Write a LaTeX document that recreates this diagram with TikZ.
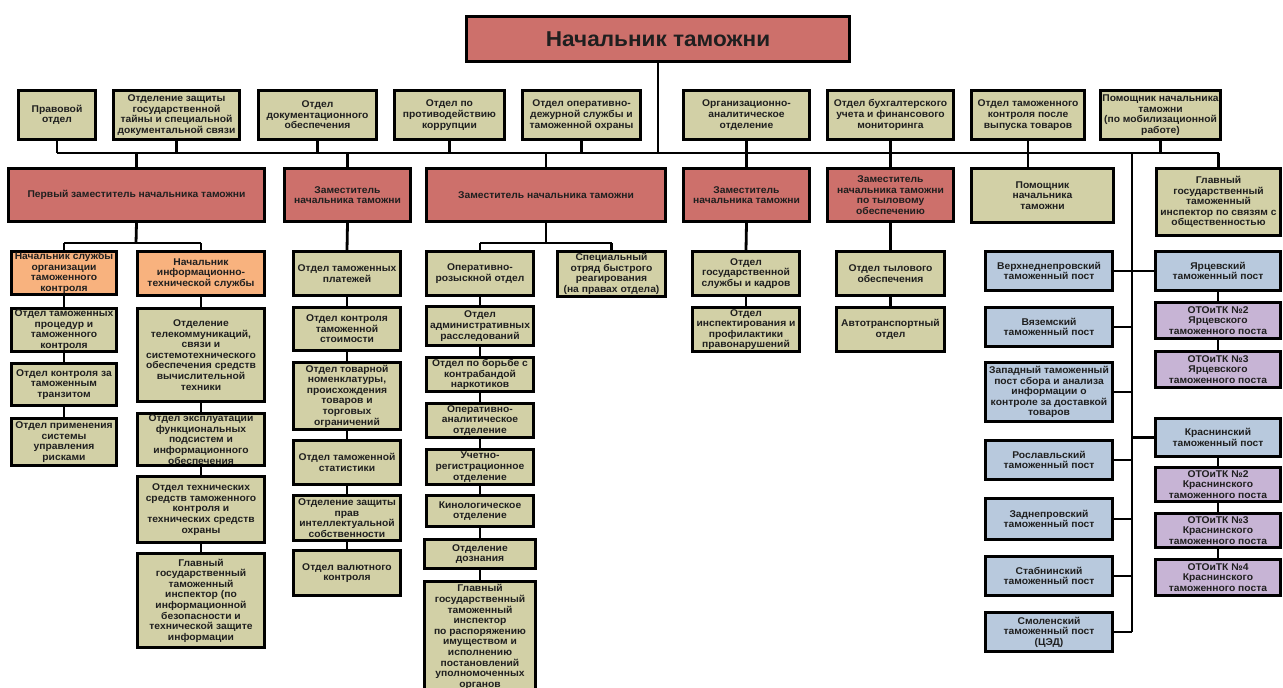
\documentclass[tikz,border=0pt]{standalone}
\usepackage{fontspec}
\setmainfont[FakeStretch=1.05]{Liberation Sans}
\definecolor{khaki}{HTML}{D2D0A6}
\definecolor{redc}{HTML}{CD706B}
\definecolor{orngc}{HTML}{F8B27E}
\definecolor{bluec}{HTML}{B8C9DD}
\definecolor{purpc}{HTML}{C7B4D5}
\newcommand\boxfont{\fontsize{9.8}{10.6}\selectfont\bfseries}
\newcommand\bx[7]{\node[#1, minimum width={#5pt-#3pt-2.8pt}, minimum height={#6pt-#4pt-2.8pt}] (#2) at ({(#3+#5)/2},{(#4+#6)/2}) {#7};}
\tikzset{
  box/.style={draw=black, line width=2.8pt, align=center, inner sep=0.5pt, font=\boxfont, text=black!88},
  kh/.style={box, fill=khaki},
  rd/.style={box, fill=redc},
  orng/.style={box, fill=orngc},
  bl/.style={box, fill=bluec},
  pu/.style={box, fill=purpc},
  conn/.style={draw=black, line width=2.8pt},
}
\begin{document}
\begin{tikzpicture}[x=1pt,y=-1pt]
\fill[white] (0,0) rectangle (1283,688);
\useasboundingbox (0,0) rectangle (1283,688);
% top
\node[rd, minimum width=383pt, minimum height=45pt, font=\fontsize{21.5}{23}\selectfont\bfseries] (top) at (658,39) {Начальник таможни};
% row 1
\bx{kh}{pravo}{17}{89}{97}{141}{Правовой\\отдел}
\bx{kh}{zashch}{112}{89}{241}{141}{Отделение защиты\\государственной\\тайны и специальной\\документальной связи}
\bx{kh}{dok}{257}{89}{378}{141}{Отдел\\документационного\\обеспечения}
\bx{kh}{korr}{393}{89}{506}{141}{Отдел по\\противодействию\\коррупции}
\bx{kh}{oper}{521}{89}{642}{141}{Отдел  оперативно-\\дежурной службы и\\таможенной охраны}
\bx{kh}{org}{682}{89}{811}{141}{Организационно-\\аналитическое\\отделение}
\bx{kh}{buh}{826}{89}{955}{141}{Отдел бухгалтерского\\учета и финансового\\мониторинга}
\bx{kh}{otk}{970}{89}{1086}{141}{Отдел таможенного\\контроля после\\выпуска товаров}
\bx{kh}{pommob}{1099}{89}{1222}{141}{Помощник начальника\\таможни\\(по мобилизационной\\работе)}
% row 2
\bx{rd}{zam1}{7}{167}{266}{223}{Первый заместитель начальника таможни}
\bx{rd}{zam2}{283}{167}{412}{223}{Заместитель\\начальника таможни}
\bx{rd}{zam3}{425}{167}{667}{223}{Заместитель начальника таможни}
\bx{rd}{zam4}{682}{167}{811}{223}{Заместитель\\начальника таможни}
\bx{rd}{zamt}{826}{167}{955}{223}{Заместитель\\начальника таможни\\по тыловому\\обеспечению}
\bx{kh}{pom}{970}{167}{1115}{224}{Помощник\\начальника\\таможни}
\bx{kh}{glsv}{1155}{167}{1282}{237}{Главный\\государственный\\таможенный\\инспектор по связям с\\общественностью}
% column 1a
\bx{orng}{nsl}{10}{250}{118}{296}{Начальник службы\\организации\\таможенного\\контроля}
\bx{kh}{c1a}{10}{307}{118}{353}{Отдел таможенных\\процедур и\\таможенного\\контроля}
\bx{kh}{c1b}{10}{362}{118}{407}{Отдел контроля за\\таможенным\\транзитом}
\bx{kh}{c1c}{10}{417}{118}{467}{Отдел применения\\системы\\управления\\рисками}
% column 1b
\bx{orng}{nit}{136}{250}{266}{297}{Начальник\\информационно-\\технической службы}
\bx{kh}{c2a}{136}{307}{266}{403}{Отделение\\телекоммуникаций,\\связи и\\системотехнического\\обеспечения средств\\вычислительной\\техники}
\bx{kh}{c2b}{136}{412}{266}{467}{Отдел эксплуатации\\функциональных\\подсистем и\\информационного\\обеспечения}
\bx{kh}{c2c}{136}{475}{266}{544}{Отдел технических\\средств таможенного\\контроля и\\технических средств\\охраны}
\bx{kh}{c2d}{136}{552}{266}{649}{Главный\\государственный\\таможенный\\инспектор (по\\информационной\\безопасности и\\технической защите\\информации}
% column 2
\bx{kh}{d1}{292}{250}{402}{297}{Отдел таможенных\\платежей}
\bx{kh}{d2}{292}{306}{402}{352}{Отдел контроля\\таможенной\\стоимости}
\bx{kh}{d3}{292}{361}{402}{431}{Отдел товарной\\номенклатуры,\\происхождения\\товаров и\\торговых\\ограничений}
\bx{kh}{d4}{292}{439}{402}{486}{Отдел таможенной\\статистики}
\bx{kh}{d5}{292}{494}{402}{542}{Отделение защиты\\прав\\интеллектуальной\\собственности}
\bx{kh}{d6}{292}{549}{402}{597}{Отдел валютного\\контроля}
% column 3
\bx{kh}{e1}{425}{250}{535}{297}{Оперативно-\\розыскной отдел}
\bx{kh}{e2}{425}{305}{535}{347}{Отдел\\административных\\расследований}
\bx{kh}{e3}{425}{356}{535}{393}{Отдел по борьбе с\\контрабандой\\наркотиков}
\bx{kh}{e4}{425}{402}{535}{439}{Оперативно-\\аналитическое\\отделение}
\bx{kh}{e5}{425}{448}{535}{486}{Учетно-\\регистрационное\\отделение}
\bx{kh}{e6}{425}{494}{535}{528}{Кинологическое\\отделение}
\bx{kh}{e7}{423}{538}{537}{570}{Отделение\\дознания}
\bx{kh}{e8}{423}{580}{537}{694}{Главный\\государственный\\таможенный\\инспектор\\по распоряжению\\имуществом и\\исполнению\\постановлений\\уполномоченных\\органов}
\bx{kh}{spec}{556}{250}{667}{298}{Специальный\\отряд быстрого\\реагирования\\(на правах отдела)}
% column 4, 5
\bx{kh}{f1}{691}{250}{801}{297}{Отдел\\государственной\\службы и кадров}
\bx{kh}{f2}{691}{306}{801}{353}{Отдел\\инспектирования и\\профилактики\\правонарушений}
\bx{kh}{g1}{835}{250}{946}{297}{Отдел тылового\\обеспечения}
\bx{kh}{g2}{835}{306}{946}{353}{Автотранспортный\\отдел}
% posts left
\bx{bl}{verh}{984}{250}{1114}{292}{Верхнеднепровский\\таможенный пост}
\bx{bl}{vyaz}{984}{306}{1114}{348}{Вяземский\\таможенный пост}
\bx{bl}{zap}{984}{361}{1114}{423}{Западный таможенный\\пост сбора и анализа\\информации о\\контроле за доставкой\\товаров}
\bx{bl}{rosl}{984}{439}{1114}{481}{Рославльский\\таможенный пост}
\bx{bl}{zadn}{984}{497}{1114}{541}{Заднепровский\\таможенный пост}
\bx{bl}{stab}{984}{555}{1114}{597}{Стабнинский\\таможенный пост}
\bx{bl}{smol}{984}{611}{1114}{653}{Смоленский\\таможенный пост\\(ЦЭД)}
% posts right
\bx{bl}{yarc}{1154}{250}{1282}{292}{Ярцевский\\таможенный пост}
\bx{pu}{y2}{1154}{301}{1282}{340}{ОТОиТК №2\\Ярцевского\\таможенного поста}
\bx{pu}{y3}{1154}{350}{1282}{389}{ОТОиТК №3\\Ярцевского\\таможенного поста}
\bx{bl}{kras}{1154}{417}{1282}{458}{Краснинский\\таможенный пост}
\bx{pu}{k2}{1154}{466}{1282}{503}{ОТОиТК №2\\Краснинского\\таможенного поста}
\bx{pu}{k3}{1154}{512}{1282}{549}{ОТОиТК №3\\Краснинского\\таможенного поста}
\bx{pu}{k4}{1154}{558}{1282}{597}{ОТОиТК №4\\Краснинского\\таможенного поста}
% connectors
\coordinate (busY) at (0,153);
\coordinate (spineTop) at (1132,153);
\coordinate (br1) at (136,243);
\coordinate (br3) at (546,243);
\draw[conn] (top.south) -- (top.south |- busY);
\draw[conn] (pravo.south |- busY) -- (glsv.north |- busY);
\foreach \n in {pravo,zashch,dok,korr,oper,org,buh,pommob}
  \draw[conn] (\n.south) -- (\n.south |- busY);
\draw[conn] (otk.south) -- (otk.south |- pom.north);
\foreach \n in {zam1,zam2,zam3,zam4,zamt,glsv}
  \draw[conn] (\n.north |- busY) -- (\n.north);
\draw[conn] (zam1.south) -- (br1);
\draw[conn] (nsl.north |- br1) -- (nit.north |- br1);
\draw[conn] (nsl.north |- br1) -- (nsl.north);
\draw[conn] (nit.north |- br1) -- (nit.north);
\draw[conn] (zam3.south) -- (br3);
\draw[conn] (e1.north |- br3) -- (spec.north |- br3);
\draw[conn] (e1.north |- br3) -- (e1.north);
\draw[conn] (spec.north |- br3) -- (spec.north);
\draw[conn] (zam2.south) -- (d1.north);
\draw[conn] (zam4.south) -- (f1.north);
\draw[conn] (zamt.south) -- (g1.north);
\foreach \a/\b in {nsl/c1a,c1a/c1b,c1b/c1c,nit/c2a,c2a/c2b,c2b/c2c,c2c/c2d,
  d1/d2,d2/d3,d3/d4,d4/d5,d5/d6,e1/e2,e2/e3,e3/e4,e4/e5,e5/e6,e6/e7,e7/e8,
  f1/f2,g1/g2,yarc/y2,y2/y3,kras/k2,k2/k3,k3/k4}
  \draw[conn] (\a.south) -- (\b.north);
\draw[conn] (spineTop) -- (spineTop |- smol.east);
\foreach \n in {verh,vyaz,zap,rosl,zadn,stab,smol}
  \draw[conn] (\n.east) -- (\n.east -| spineTop);
\foreach \n in {yarc,kras}
  \draw[conn] (\n.west) -- (\n.west -| spineTop);
\end{tikzpicture}
\end{document}
